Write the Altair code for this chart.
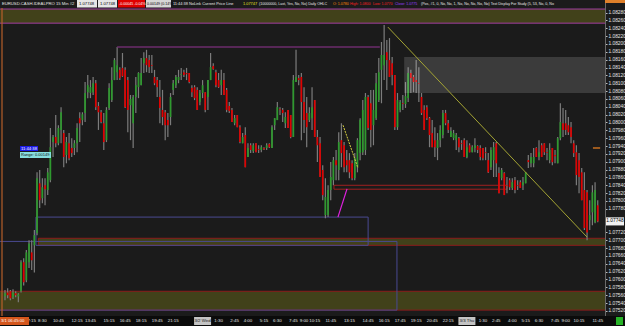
import altair as alt
import pandas as pd

# ---------------- data (EURUSD 15-min bars) ----------------
opens = [
    1.07557, 1.07567, 1.07570, 1.07555, 1.07565, 1.07557, 1.07570, 1.07644, 1.07598, 1.07644,
    1.07669, 1.07687, 1.07718, 1.07845, 1.07807, 1.07840, 1.07828, 1.07853, 1.07950, 1.07963,
    1.07947, 1.07981, 1.07973, 1.07917, 1.07947, 1.07935, 1.07935, 1.07947, 1.08011, 1.08006,
    1.08024, 1.08077, 1.08075, 1.08077, 1.08100, 1.08042, 1.08026, 1.07998, 1.07955, 1.08037,
    1.08057, 1.08108, 1.08128, 1.08134, 1.08139, 1.08134, 1.08108, 1.08044, 1.07998, 1.08065,
    1.08090, 1.08095, 1.08151, 1.08164, 1.08159, 1.08146, 1.08116, 1.08108, 1.08065, 1.08032,
    1.08026, 1.08006, 1.08014, 1.08083, 1.08095, 1.08108, 1.08121, 1.08128, 1.08126, 1.08126,
    1.08088, 1.08090, 1.08083, 1.08052, 1.08075, 1.08077, 1.08065, 1.08108, 1.08144, 1.08128,
    1.08108, 1.08095, 1.08108, 1.08083, 1.08042, 1.08032, 1.07998, 1.08019, 1.07988, 1.07947,
    1.07968, 1.07912, 1.07942, 1.07927, 1.07947, 1.07932, 1.07930, 1.07935, 1.07935, 1.07945,
    1.07935, 1.07993, 1.08006, 1.08034, 1.08032, 1.07998, 1.08032, 1.08019, 1.07963, 1.08103,
    1.08113, 1.08116, 1.08052, 1.08024, 1.08006, 1.08011, 1.08057, 1.07963, 1.07947, 1.07879,
    1.07764, 1.07764, 1.07828, 1.07853, 1.07904, 1.07879, 1.07955, 1.07942, 1.07904, 1.07904,
    1.07896, 1.07858, 1.07886, 1.07922, 1.07924, 1.07930, 1.08065, 1.08049, 1.07993, 1.08011,
    1.08057, 1.08134, 1.08146, 1.08179, 1.08159, 1.08151, 1.08121, 1.07988, 1.08032, 1.08049,
    1.08047, 1.08062, 1.08126, 1.08116, 1.08108, 1.08100, 1.08065, 1.08032, 1.08039, 1.08011,
    1.07973, 1.07955, 1.07935, 1.07955, 1.07968, 1.08024, 1.07998, 1.07963, 1.07960, 1.07955,
    1.07960, 1.07947, 1.07955, 1.07912, 1.07942, 1.07924, 1.07935, 1.07940, 1.07935, 1.07935,
    1.07924, 1.07904, 1.07886, 1.07904, 1.07947, 1.07871, 1.07858, 1.07871, 1.07840, 1.07853,
    1.07833, 1.07853, 1.07840, 1.07848, 1.07840, 1.07845, 1.07904, 1.07896, 1.07896, 1.07935,
    1.07912, 1.07942, 1.07947, 1.07924, 1.07904, 1.07935, 1.07917, 1.07896, 1.07960, 1.07998,
    1.07998, 1.07993, 1.07988, 1.07947, 1.07924, 1.07904, 1.07873, 1.07828, 1.07822, 1.07751,
    1.07771, 1.07746, 1.07789,
]
highs = [
    1.07573, 1.07578, 1.07573, 1.07575, 1.07570, 1.07565, 1.07649, 1.07654, 1.07675, 1.07700,
    1.07700, 1.07726, 1.07873, 1.07879, 1.07858, 1.07858, 1.07884, 1.07986, 1.07968, 1.08019,
    1.07993, 1.08039, 1.07981, 1.07963, 1.07973, 1.07960, 1.07955, 1.07998, 1.08026, 1.08026,
    1.08103, 1.08121, 1.08108, 1.08116, 1.08108, 1.08052, 1.08032, 1.08024, 1.08039, 1.08100,
    1.08141, 1.08164, 1.08192, 1.08141, 1.08177, 1.08141, 1.08116, 1.08070, 1.08070, 1.08116,
    1.08128, 1.08164, 1.08179, 1.08185, 1.08172, 1.08172, 1.08134, 1.08116, 1.08108, 1.08083,
    1.08032, 1.08024, 1.08075, 1.08108, 1.08121, 1.08134, 1.08139, 1.08134, 1.08139, 1.08126,
    1.08095, 1.08095, 1.08090, 1.08083, 1.08108, 1.08077, 1.08108, 1.08177, 1.08151, 1.08134,
    1.08126, 1.08134, 1.08126, 1.08088, 1.08052, 1.08037, 1.08019, 1.08019, 1.07993, 1.07973,
    1.07988, 1.07947, 1.07947, 1.07947, 1.07947, 1.07942, 1.07942, 1.07937, 1.07947, 1.07947,
    1.07993, 1.08011, 1.08052, 1.08039, 1.08037, 1.08026, 1.08032, 1.08019, 1.08121, 1.08185,
    1.08121, 1.08126, 1.08090, 1.08065, 1.08039, 1.08090, 1.08057, 1.07981, 1.07963, 1.07891,
    1.07858, 1.07840, 1.07899, 1.07912, 1.07930, 1.07975, 1.07998, 1.07950, 1.07930, 1.07922,
    1.07904, 1.07922, 1.07960, 1.08011, 1.08057, 1.08075, 1.08070, 1.08083, 1.08083, 1.08126,
    1.08164, 1.08205, 1.08248, 1.08210, 1.08215, 1.08167, 1.08121, 1.08075, 1.08057, 1.08070,
    1.08103, 1.08141, 1.08134, 1.08121, 1.08159, 1.08141, 1.08075, 1.08044, 1.08044, 1.08014,
    1.08006, 1.07988, 1.07973, 1.07993, 1.08032, 1.08032, 1.08006, 1.07988, 1.07981, 1.07973,
    1.07963, 1.07955, 1.07960, 1.07955, 1.07947, 1.07942, 1.07960, 1.07942, 1.07942, 1.07935,
    1.07937, 1.07922, 1.07937, 1.07950, 1.07950, 1.07886, 1.07884, 1.07873, 1.07861, 1.07858,
    1.07858, 1.07861, 1.07853, 1.07853, 1.07861, 1.07873, 1.07917, 1.07922, 1.07935, 1.07937,
    1.07955, 1.07947, 1.07947, 1.07935, 1.07947, 1.07935, 1.07930, 1.07963, 1.08049, 1.08037,
    1.08032, 1.08014, 1.08001, 1.07955, 1.07942, 1.07922, 1.07884, 1.07873, 1.07828, 1.07802,
    1.07840, 1.07848, 1.07802,
]
lows = [
    1.07547, 1.07552, 1.07547, 1.07550, 1.07555, 1.07542, 1.07567, 1.07585, 1.07593, 1.07629,
    1.07624, 1.07618, 1.07713, 1.07782, 1.07794, 1.07789, 1.07815, 1.07848, 1.07912, 1.07937,
    1.07942, 1.07947, 1.07886, 1.07896, 1.07904, 1.07912, 1.07917, 1.07924, 1.07950, 1.07993,
    1.08001, 1.08062, 1.08062, 1.08070, 1.08032, 1.07981, 1.07998, 1.07930, 1.07950, 1.08032,
    1.08052, 1.08108, 1.08108, 1.08108, 1.08116, 1.08037, 1.07975, 1.07955, 1.07935, 1.08024,
    1.08062, 1.08095, 1.08126, 1.08128, 1.08126, 1.08126, 1.08095, 1.08065, 1.07998, 1.07993,
    1.07955, 1.07963, 1.07993, 1.08070, 1.08088, 1.08100, 1.08108, 1.08116, 1.08108, 1.08100,
    1.08065, 1.08057, 1.08032, 1.08044, 1.08062, 1.08026, 1.08032, 1.08108, 1.08134, 1.08090,
    1.08088, 1.08070, 1.08070, 1.08026, 1.08024, 1.08001, 1.07993, 1.07988, 1.07947, 1.07947,
    1.07886, 1.07912, 1.07922, 1.07922, 1.07924, 1.07922, 1.07924, 1.07930, 1.07930, 1.07935,
    1.07935, 1.07981, 1.08006, 1.08019, 1.08001, 1.07986, 1.07986, 1.07960, 1.07963, 1.08103,
    1.08095, 1.07955, 1.07973, 1.07937, 1.08001, 1.07981, 1.07963, 1.07899, 1.07861, 1.07802,
    1.07756, 1.07759, 1.07802, 1.07840, 1.07853, 1.07853, 1.07886, 1.07873, 1.07873, 1.07858,
    1.07853, 1.07853, 1.07873, 1.07904, 1.07917, 1.07917, 1.07981, 1.07937, 1.07942, 1.08006,
    1.08052, 1.08049, 1.08108, 1.08083, 1.08116, 1.08095, 1.07981, 1.07981, 1.08026, 1.08032,
    1.08037, 1.08052, 1.08075, 1.08077, 1.08075, 1.08052, 1.08019, 1.07981, 1.08006, 1.07937,
    1.07937, 1.07912, 1.07904, 1.07937, 1.07960, 1.07993, 1.07973, 1.07963, 1.07955, 1.07930,
    1.07924, 1.07930, 1.07912, 1.07909, 1.07924, 1.07924, 1.07924, 1.07922, 1.07904, 1.07904,
    1.07904, 1.07871, 1.07879, 1.07861, 1.07861, 1.07820, 1.07853, 1.07815, 1.07820, 1.07828,
    1.07828, 1.07820, 1.07828, 1.07833, 1.07828, 1.07845, 1.07884, 1.07886, 1.07886, 1.07912,
    1.07904, 1.07912, 1.07917, 1.07904, 1.07896, 1.07891, 1.07896, 1.07896, 1.07955, 1.07963,
    1.07968, 1.07968, 1.07947, 1.07912, 1.07840, 1.07820, 1.07802, 1.07726, 1.07700, 1.07726,
    1.07738, 1.07743, 1.07746,
]
closes = [
    1.07565, 1.07560, 1.07552, 1.07567, 1.07560, 1.07562, 1.07644, 1.07593, 1.07669, 1.07692,
    1.07649, 1.07713, 1.07858, 1.07802, 1.07835, 1.07830, 1.07873, 1.07937, 1.07963, 1.07947,
    1.07986, 1.08026, 1.07912, 1.07950, 1.07909, 1.07922, 1.07947, 1.07986, 1.07998, 1.08021,
    1.08075, 1.08095, 1.08090, 1.08100, 1.08039, 1.08026, 1.08001, 1.07950, 1.08032, 1.08088,
    1.08108, 1.08159, 1.08146, 1.08113, 1.08118, 1.08039, 1.08032, 1.08060, 1.08065, 1.08095,
    1.08126, 1.08126, 1.08164, 1.08146, 1.08141, 1.08144, 1.08100, 1.08090, 1.08037, 1.08014,
    1.07993, 1.07993, 1.08065, 1.08100, 1.08116, 1.08116, 1.08123, 1.08121, 1.08123, 1.08103,
    1.08077, 1.08062, 1.08032, 1.08075, 1.08095, 1.08032, 1.08108, 1.08141, 1.08136, 1.08095,
    1.08090, 1.08108, 1.08070, 1.08032, 1.08029, 1.08001, 1.08011, 1.07988, 1.07950, 1.07963,
    1.07886, 1.07935, 1.07930, 1.07942, 1.07924, 1.07930, 1.07937, 1.07932, 1.07942, 1.07937,
    1.07988, 1.08011, 1.08039, 1.08032, 1.08024, 1.08014, 1.07986, 1.07963, 1.08108, 1.08116,
    1.08108, 1.08052, 1.08006, 1.07988, 1.08024, 1.08039, 1.07963, 1.07942, 1.07861, 1.07815,
    1.07810, 1.07828, 1.07861, 1.07904, 1.07891, 1.07950, 1.07922, 1.07886, 1.07891, 1.07873,
    1.07858, 1.07909, 1.07955, 1.08006, 1.08032, 1.08065, 1.07986, 1.07981, 1.08032, 1.08100,
    1.08128, 1.08172, 1.08172, 1.08159, 1.08116, 1.08121, 1.07988, 1.08057, 1.08052, 1.08047,
    1.08067, 1.08126, 1.08113, 1.08103, 1.08103, 1.08098, 1.08024, 1.07981, 1.08011, 1.07968,
    1.07937, 1.07937, 1.07955, 1.07981, 1.08024, 1.07998, 1.07981, 1.07978, 1.07973, 1.07968,
    1.07937, 1.07945, 1.07912, 1.07937, 1.07924, 1.07937, 1.07942, 1.07930, 1.07912, 1.07909,
    1.07922, 1.07873, 1.07930, 1.07937, 1.07896, 1.07820, 1.07879, 1.07815, 1.07838, 1.07835,
    1.07848, 1.07828, 1.07838, 1.07833, 1.07848, 1.07873, 1.07899, 1.07912, 1.07912, 1.07912,
    1.07924, 1.07912, 1.07924, 1.07922, 1.07930, 1.07899, 1.07914, 1.07960, 1.08001, 1.07981,
    1.07981, 1.07975, 1.07963, 1.07922, 1.07866, 1.07861, 1.07802, 1.07731, 1.07720, 1.07764,
    1.07822, 1.07828, 1.07748,
]

time_labels = ["7:15", "8:30", "10:45", "12:15", "13:45", "15:15", "16:45", "18:15", "19:45", "21:15",
               "1:30", "2:45", "4:00", "5:15", "6:30", "7:45", "9:00", "10:15", "11:45", "13:15",
               "14:45", "16:15", "17:45", "19:15", "20:45", "22:15",
               "1:30", "2:45", "4:00", "5:15", "6:30", "7:45", "9:00", "10:15", "11:45"]
time_label_bars = [10, 14, 20, 27, 32, 39, 45, 51, 57, 63,
                   80, 86, 91, 97, 102, 108, 112, 116, 122, 129,
                   136, 142, 148, 154, 160, 166,
                   179, 184, 190, 195, 200, 206, 210, 215, 222]
date_labels = ["3/2 Wed", "3/3 Thu"]
date_label_bars = [74, 173]

price_ticks = [1.0752, 1.0754, 1.0756, 1.0758, 1.0760, 1.0762, 1.0764, 1.0766, 1.0768, 1.0770,
               1.0772, 1.0778, 1.0780, 1.0782, 1.0784, 1.0786, 1.0788, 1.0790, 1.0792, 1.0794,
               1.0796, 1.0798, 1.0800, 1.0802, 1.0804, 1.0806, 1.0808, 1.0810, 1.0812, 1.0814,
               1.0816, 1.0818, 1.0820, 1.0822, 1.0824, 1.0826, 1.0828]
current_price = [1.07748]

zone_names = ["top", "mid", "bottom"]
zone_low = [1.08253, 1.07687, 1.07522]
zone_high = [1.08289, 1.07705, 1.07570]
zone_start = [-3.0, 12.5, -3.0]
zone_end = [227.0, 227.0, 227.0]

box_low = [1.07687, 1.07522]
box_high = [1.07759, 1.07697]
box_start = [11.6, -3.0]
box_end = [136.0, 146.8]

gray_low = [1.08075]
gray_high = [1.08167]
gray_start = [149.5]
gray_end = [227.0]

band_low = [1.07830]
band_high = [1.07840]
band_start = [123.2]
band_end = [188.0]

seg_names = ["purple", "trend", "small", "magenta", "orange"]
seg_x1 = [42.0, 143.4, 126.6, 124.7, 220.2]
seg_x2 = [140.4, 218.0, 132.2, 128.1, 222.9]
seg_y1 = [1.08192, 1.08243, 1.07993, 1.07759, 1.07935]
seg_y2 = [1.08192, 1.07708, 1.07884, 1.07831, 1.07935]

# ---------------- frames ----------------
n = len(opens)
candles = pd.DataFrame({"bar": list(range(n)), "open": opens, "high": highs,
                        "low": lows, "close": closes})
candles["dir"] = ["up" if c >= o else "down" for o, c in zip(opens, closes)]
zones = pd.DataFrame({"zone": zone_names, "low": zone_low, "high": zone_high,
                      "start": zone_start, "end": zone_end})
boxes = pd.DataFrame({"low": box_low, "high": box_high, "start": box_start, "end": box_end})
gray = pd.DataFrame({"low": gray_low, "high": gray_high, "start": gray_start, "end": gray_end})
band = pd.DataFrame({"low": band_low, "high": band_high, "start": band_start, "end": band_end})
segs = pd.DataFrame({"name": seg_names, "x1": seg_x1, "x2": seg_x2, "y1": seg_y1, "y2": seg_y2})
tl = pd.DataFrame({"bar": time_label_bars, "label": time_labels})
dl = pd.DataFrame({"bar": date_label_bars, "label": date_labels})
cp = pd.DataFrame({"price": current_price})
one = pd.DataFrame({"a": [0]})

FONT = "Liberation Sans"
xsc = alt.Scale(domain=[-1.87, 224.72], nice=False, zero=False)
ysc = alt.Scale(domain=[1.07507, 1.08312], nice=False, zero=False)
yaxis = alt.Axis(orient="right", values=price_ticks, format=".5f", title=None, grid=False,
                 labelFontSize=4.8, labelColor="#e6e6e6", labelFont=FONT,
                 tickColor="#bbbbbb", tickSize=2, tickWidth=1, domainColor="#6a6a6a",
                 labelPadding=1, labelOverlap=False, labelFlush=False)


def X(f):
    return alt.X(f, type="quantitative", scale=xsc, axis=None)


def Y(f):
    return alt.Y(f, type="quantitative", scale=ysc, axis=yaxis)


def box(x1, x2, y1, y2, fill):
    return alt.Chart(one).mark_rect(fill=fill).encode(
        x=alt.value(x1), x2=alt.value(x2), y=alt.value(y1), y2=alt.value(y2))


def txt(x, y, s, color, size=3.9, align="left"):
    return alt.Chart(one).mark_text(text=s, color=color, fontSize=size, font=FONT,
                                    align=align, baseline="middle").encode(
        x=alt.value(x), y=alt.value(y))


layers = []

# zones
layers.append(alt.Chart(zones).mark_rect(fill="#41411a", strokeWidth=1, clip=True).encode(
    x=X("start"), x2="end", y=Y("low"), y2="high",
    stroke=alt.Stroke("zone:N", scale=alt.Scale(domain=["top", "mid", "bottom"],
                                                range=["#a03ca0", "#8a1c1c", "#8a1c1c"]),
                      legend=None)))

# blue boxes
layers.append(alt.Chart(boxes).mark_rect(fillOpacity=0, stroke="#4a4a92", strokeWidth=1, clip=True).encode(
    x=X("start"), x2="end", y=Y("low"), y2="high"))

# thin red band
layers.append(alt.Chart(band).mark_rect(fillOpacity=0, stroke="#a02020", strokeWidth=1, clip=True).encode(
    x=X("start"), x2="end", y=Y("low"), y2="high"))

# candles
layers.append(alt.Chart(candles).mark_rule(color="#7c7c7c", strokeWidth=1.2).encode(
    x=X("bar"), y=Y("low"), y2="high"))
layers.append(alt.Chart(candles).mark_rule(strokeWidth=1.7).encode(
    x=X("bar"), y=Y("open"), y2="close",
    color=alt.Color("dir:N", scale=alt.Scale(domain=["up", "down"], range=["#2e9a2e", "#e00000"]),
                    legend=None)))

# translucent gray zone
layers.append(alt.Chart(gray).mark_rect(fill="#ffffff", opacity=0.14, clip=True).encode(
    x=X("start"), x2="end", y=Y("low"), y2="high"))

# drawn segments
seg_styles = {
    "purple": dict(color="#6c2c6c", strokeWidth=1.5),
    "trend": dict(color="#a4a434", strokeWidth=1),
    "small": dict(color="#d6d040", strokeWidth=1, strokeDash=[2, 1]),
    "magenta": dict(color="#e020e0", strokeWidth=1.2),
    "orange": dict(color="#c87020", strokeWidth=1.5),
}
for nm, st in seg_styles.items():
    layers.append(alt.Chart(segs).transform_filter(alt.datum.name == nm).mark_rule(**st).encode(
        x=X("x1"), x2="x2", y=Y("y1"), y2="y2"))

# left orange cursor line
layers.append(alt.Chart(one).mark_rule(color="#b8602a", strokeWidth=1.2).encode(
    x=alt.value(2), y=alt.value(8), y2=alt.value(316)))

# left info labels
layers += [
    box(20, 38, 146, 151, "#1c1ce8"), txt(21, 148.6, "11:44:38", "#ffffff", 4.2),
    box(20, 51, 152, 158, "#86dede"), txt(21, 155.1, "Range: 0.00149", "#101010", 4.0),
]

# bottom time axis row
layers.append(box(0, 625, 316, 326, "#0b0b0b"))
layers.append(alt.Chart(tl).mark_text(color="#e2e2e2", fontSize=4.4, font=FONT, baseline="middle").encode(
    x=X("bar"), y=alt.value(321), text="label:N"))
layers.append(alt.Chart(dl).mark_point(shape="M-1,-0.47L1,-0.47L1,0.47L-1,0.47Z", size=289,
                                        filled=True, fill="#c4c4c4", opacity=1, strokeWidth=0).encode(
    x=X("bar"), y=alt.value(321)))
layers.append(alt.Chart(dl).mark_text(color="#202020", fontSize=4.4, font=FONT, baseline="middle").encode(
    x=X("bar"), y=alt.value(321), text="label:N"))
layers += [box(0, 29, 317, 325, "#d4561c"), txt(1, 321, "3/1 06:45:00", "#ffffff", 4.2)]
layers.append(box(616, 623, 317, 325, "#28b428"))

# current price tag on the price axis
layers.append(alt.Chart(cp).mark_point(shape="M-1,-0.45L1,-0.45L1,0.45L-1,0.45Z", size=324,
                                        filled=True, fill="#f2f2f2", opacity=1, strokeWidth=0).encode(
    x=alt.value(615), y=Y("price")))
layers.append(alt.Chart(cp).mark_text(color="#000000", fontSize=4.8, font=FONT, baseline="middle").encode(
    x=alt.value(615), y=Y("price"), text=alt.Text("price:Q", format=".5f")))

# header line
layers += [
    box(605, 625, 0, 3, "#e0802a"),
    txt(2, 3.8, "EURUSD.CASH.IDEALPRO 15 Min #2", "#e8e8e8", 4.2),
    box(77, 97, 0, 7.5, "#e6e6e6"), txt(79, 3.8, "1.07748", "#000000", 4.2),
    box(98, 117, 0, 7.5, "#e6e6e6"), txt(100, 3.8, "1.07748", "#000000", 4.2),
    box(118, 145, 0, 7.5, "#e00000"), txt(119, 3.8, "-0.00045 -0.04%", "#ffffff", 3.6),
    box(146, 171, 0, 7.5, "#d6d6d6"), txt(147, 3.8, "0.00149 (0.14%)", "#000000", 3.6),
    txt(173, 3.8, "11:44:38 NoLink Current Price Line", "#e8e8e8", 3.9),
    txt(243, 3.8, "1.07747", "#e6e620", 3.9),
    txt(259, 3.8, "(10000000, Last, Yes, No, No) Daily OHLC", "#e8e8e8", 3.6),
    txt(333, 3.8, "O: 1.0780", "#ff8a00", 3.6),
    txt(350, 3.8, "High: 1.0800", "#ff2020", 3.6),
    txt(373, 3.8, "Low: 1.0770", "#ff2020", 3.6),
    txt(395, 3.8, "Close: 1.0775", "#9c40ff", 3.6),
    txt(421, 3.8, "(Pos, #1, 0, No, No, 1, No, No, No, No, No) Text Display For Study (5, 53, No, 0, No",
        "#e8e8e8", 3.6),
]

chart = alt.layer(*layers).properties(
    width=605, height=316,
    padding={"left": 0, "top": 0, "right": 20, "bottom": 10},
    autosize=alt.AutoSizeParams(type="none"),
).configure(background="#1b1b1b").configure_view(stroke=None, fill="#1b1b1b")

chart.save("out.html", embed_options={"renderer": "svg", "actions": False})
